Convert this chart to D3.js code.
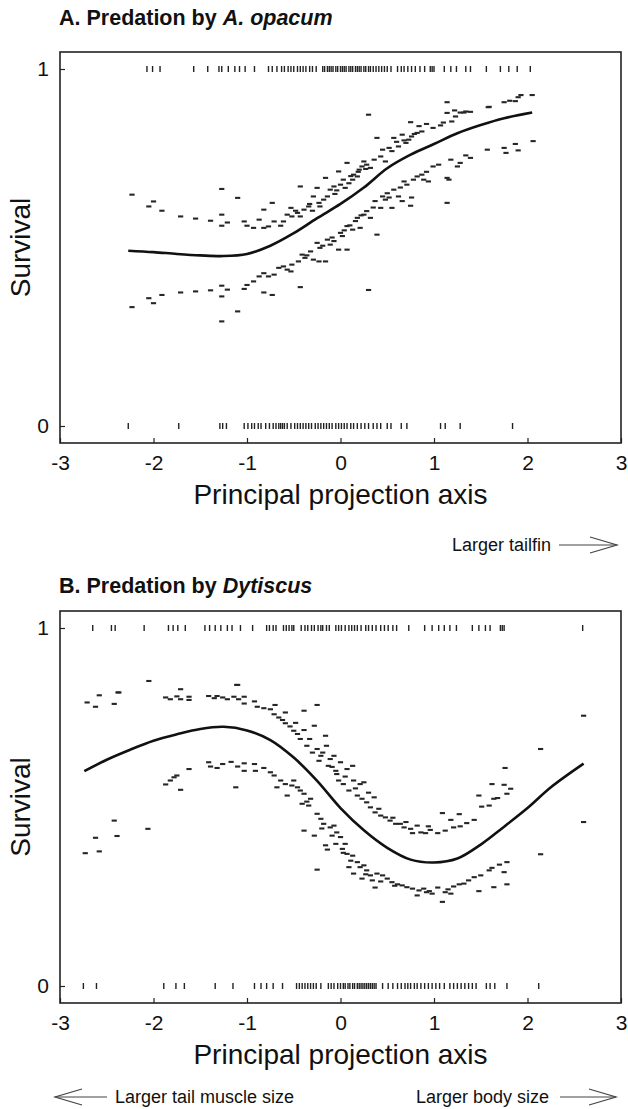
<!DOCTYPE html>
<html>
<head>
<meta charset="utf-8">
<script src="https://cdn.jsdelivr.net/npm/d3@7"></script>
<style>
	body { margin: 0; background: #fff; }
	text { font-family: "Liberation Sans", Arial, sans-serif; fill: #111; }
</style>
</head>
<body>
<svg width="628" height="1109"></svg>
<script>
const xTicks = [-3, -2, -1, 0, 1, 2, 3];
const yTicks = [0, 1];

// fitted survival curve, panel A
const curveA = [[-2.27, 0.491], [-2.0, 0.487], [-1.75, 0.482], [-1.5, 0.478], [-1.25, 0.476], [-1.0, 0.482],
	[-0.75, 0.505], [-0.5, 0.540], [-0.25, 0.582], [0, 0.622], [0.25, 0.668], [0.5, 0.722], [0.75, 0.760],
	[1.0, 0.790], [1.25, 0.820], [1.5, 0.843], [1.75, 0.862], [2.05, 0.878]];

// individual values, panel A
const dashesA = [
	[-2.23, 0.648], [-2.00, 0.629], [-2.05, 0.615], [-1.91, 0.603], [-1.71, 0.587], [-1.55, 0.581], [-1.39, 0.575],
	[-1.27, 0.664], [-1.10, 0.639], [-1.27, 0.592], [-1.27, 0.561], [-1.21, 0.570], [-1.03, 0.573], [-1.00, 0.561],
	[-0.93, 0.555], [-0.87, 0.578], [-0.82, 0.606], [-0.82, 0.555], [-0.77, 0.559], [-0.73, 0.625], [-0.71, 0.573],
	[-0.64, 0.561], [-0.61, 0.573], [-0.57, 0.592], [-0.53, 0.611], [-0.52, 0.587], [-0.46, 0.597], [-0.43, 0.587],
	[-0.43, 0.671], [-0.39, 0.606], [-0.34, 0.615], [-0.30, 0.603], [-0.29, 0.643], [-0.25, 0.667], [-0.23, 0.625],
	[-0.22, 0.615], [-0.18, 0.634], [-0.16, 0.695], [-0.14, 0.643], [-0.11, 0.662], [-0.07, 0.671], [-0.04, 0.660],
	[-0.02, 0.713], [0.00, 0.676], [0.05, 0.667], [0.07, 0.737], [0.09, 0.680], [0.13, 0.690], [0.14, 0.704],
	[0.18, 0.699], [0.20, 0.718], [0.23, 0.727], [0.25, 0.741], [0.28, 0.732], [0.30, 0.872], [0.32, 0.723],
	[0.36, 0.746], [0.39, 0.807], [0.43, 0.755], [0.45, 0.774], [0.48, 0.741], [0.52, 0.779], [0.55, 0.770],
	[0.57, 0.807], [0.62, 0.783], [0.66, 0.816], [0.70, 0.793], [0.73, 0.802], [0.75, 0.851], [0.76, 0.811],
	[0.82, 0.821], [0.84, 0.840], [0.87, 0.825], [0.92, 0.846], [0.99, 0.835], [1.07, 0.842], [1.14, 0.907],
	[1.14, 0.877], [1.19, 0.853], [1.23, 0.867], [1.32, 0.878], [1.39, 0.880], [1.59, 0.894], [1.75, 0.907],
	[1.87, 0.910], [1.22, 0.884], [1.28, 0.878], [1.34, 0.881], [1.81, 0.911], [1.90, 0.921], [1.93, 0.927],
	[2.05, 0.927], [1.10, 0.850], [1.58, 0.893],
	[-0.06, 0.650], [0.03, 0.690], [0.11, 0.700], [0.19, 0.712], [0.27, 0.720], [-0.33, 0.622], [-0.48, 0.603],
	[0.60, 0.796], [0.68, 0.800], [0.79, 0.818],
	[-2.23, 0.333], [-2.05, 0.358], [-2.00, 0.344], [-1.91, 0.367], [-1.71, 0.374], [-1.55, 0.377], [-1.39, 0.380],
	[-1.27, 0.393], [-1.27, 0.363], [-1.27, 0.293], [-1.21, 0.382], [-1.10, 0.321], [-1.03, 0.384], [-1.00, 0.395],
	[-0.93, 0.405], [-0.87, 0.419], [-0.82, 0.428], [-0.82, 0.374], [-0.73, 0.367], [-0.77, 0.419], [-0.71, 0.424],
	[-0.66, 0.443], [-0.61, 0.447], [-0.57, 0.438], [-0.53, 0.433], [-0.52, 0.452], [-0.45, 0.461], [-0.43, 0.389],
	[-0.41, 0.480], [-0.38, 0.471], [-0.32, 0.489], [-0.29, 0.466], [-0.25, 0.513], [-0.23, 0.461], [-0.22, 0.499],
	[-0.16, 0.461], [-0.14, 0.522], [-0.11, 0.508], [-0.07, 0.518], [-0.02, 0.494], [0.00, 0.541], [0.02, 0.532],
	[0.07, 0.494], [0.07, 0.560], [0.13, 0.550], [0.16, 0.574], [0.18, 0.583], [0.21, 0.555], [0.25, 0.592],
	[0.28, 0.602], [0.30, 0.381], [0.32, 0.583], [0.37, 0.630], [0.39, 0.536], [0.43, 0.611], [0.45, 0.643],
	[0.48, 0.634], [0.50, 0.652], [0.55, 0.611], [0.57, 0.662], [0.62, 0.643], [0.66, 0.630], [0.68, 0.685],
	[0.71, 0.676], [0.75, 0.617], [0.76, 0.640], [0.78, 0.690], [0.82, 0.699], [0.87, 0.704], [0.89, 0.690],
	[0.94, 0.685], [0.99, 0.727], [1.05, 0.732], [1.14, 0.625], [1.14, 0.695], [1.16, 0.690], [1.18, 0.746],
	[1.25, 0.727], [1.28, 0.737], [1.34, 0.758], [1.39, 0.751], [1.57, 0.774], [1.75, 0.779], [1.77, 0.765],
	[1.87, 0.790], [1.90, 0.772], [2.06, 0.798],
	[-0.36, 0.478], [-0.19, 0.505], [-0.09, 0.528], [0.04, 0.548], [0.10, 0.562], [0.22, 0.590], [0.35, 0.612],
	[0.52, 0.640], [0.64, 0.668], [0.92, 0.712]
];

// survivors (1) and non-survivors (0), panel A
const rugA1 = [-2.07, -2.01, -1.93, -1.57, -1.42, -1.30, -1.27, -1.20, -1.13, -1.08, -1.02, -0.92, -0.77, -0.73,
	-0.68, -0.63, -0.60, -0.56, -0.53, -0.50, -0.46, -0.43, -0.40, -0.37, -0.33, -0.30, -0.26, -0.19, -0.17, -0.14,
	-0.12, -0.10, -0.08, -0.05, -0.03, 0.00, 0.02, 0.04, 0.06, 0.09, 0.11, 0.13, 0.16, 0.18, 0.20, 0.22, 0.25, 0.27,
	0.30, 0.32, 0.35, 0.38, 0.41, 0.44, 0.47, 0.50, 0.54, 0.61, 0.65, 0.68, 0.72, 0.76, 0.80, 0.85, 0.90, 0.96,
	0.98, 1.00, 1.11, 1.18, 1.24, 1.34, 1.39, 1.56, 1.71, 1.80, 1.89, 2.03];
const rugA0 = [-2.27, -1.73, -1.29, -1.26, -1.22, -1.03, -0.99, -0.95, -0.92, -0.88, -0.85, -0.80, -0.76,
	-0.72, -0.69, -0.66, -0.64, -0.62, -0.60, -0.57, -0.53, -0.49, -0.46, -0.43, -0.40, -0.37, -0.34, -0.31,
	-0.27, -0.24, -0.21, -0.18, -0.15, -0.12, -0.09, -0.05, -0.02, 0.01, 0.04, 0.07, 0.11, 0.14, 0.18, 0.22,
	0.26, 0.30, 0.35, 0.39, 0.43, 0.50, 0.54, 0.65, 0.71, 1.07, 1.12, 1.28, 1.84];

// fitted survival curve, panel B
const curveB = [[-2.74, 0.600], [-2.5, 0.632], [-2.25, 0.660], [-2.0, 0.685], [-1.75, 0.703], [-1.5, 0.718],
	[-1.25, 0.724], [-1.0, 0.714], [-0.75, 0.687], [-0.5, 0.638], [-0.25, 0.573], [0, 0.497], [0.25, 0.435],
	[0.5, 0.386], [0.75, 0.353], [1.0, 0.345], [1.25, 0.356], [1.5, 0.395], [1.75, 0.445], [2.0, 0.497],
	[2.25, 0.555], [2.6, 0.621]];

// individual values, panel B
const dashesB = [
	[-2.71, 0.792], [-2.58, 0.812], [-2.62, 0.780], [-2.38, 0.820], [-2.42, 0.788], [-1.71, 0.829], [-1.87, 0.806],
	[-1.82, 0.801], [-1.75, 0.809], [-1.71, 0.801], [-1.62, 0.808], [-1.62, 0.799], [-1.41, 0.810], [-1.35, 0.804],
	[-1.32, 0.810], [-1.26, 0.806], [-1.21, 0.801], [-1.14, 0.808], [-1.10, 0.841], [-1.09, 0.801], [-1.03, 0.808],
	[-1.03, 0.789], [-0.92, 0.795], [-0.89, 0.780], [-0.82, 0.776], [-0.75, 0.773], [-0.70, 0.785], [-0.71, 0.759],
	[-0.66, 0.750], [-0.62, 0.743], [-0.59, 0.764], [-0.59, 0.734], [-0.39, 0.769], [-0.25, 0.785], [-0.50, 0.713],
	[-0.46, 0.704], [-0.39, 0.715], [-0.43, 0.690], [-0.36, 0.671], [-0.30, 0.652], [-0.28, 0.727], [-0.25, 0.662],
	[-0.21, 0.643], [-0.23, 0.629], [-0.16, 0.699], [-0.15, 0.671], [-0.13, 0.615], [-0.11, 0.634], [-0.07, 0.643],
	[-0.05, 0.601], [-0.04, 0.592], [-0.02, 0.574], [0.00, 0.625], [0.03, 0.564], [0.07, 0.606], [0.09, 0.546],
	[0.13, 0.615], [0.14, 0.574], [0.18, 0.532], [0.21, 0.564], [0.23, 0.523], [0.25, 0.569], [0.28, 0.513],
	[0.32, 0.499], [0.36, 0.527], [0.37, 0.485], [0.43, 0.476], [0.48, 0.471], [0.53, 0.462], [0.59, 0.453],
	[0.64, 0.453], [0.68, 0.443], [0.75, 0.439], [0.77, 0.427], [0.82, 0.448], [0.86, 0.429], [0.91, 0.427],
	[0.96, 0.436], [1.04, 0.427], [1.09, 0.483], [1.12, 0.434], [1.18, 0.464], [1.21, 0.443], [1.27, 0.480],
	[1.28, 0.446], [1.35, 0.455], [1.43, 0.464], [1.48, 0.532], [1.51, 0.501], [1.59, 0.504], [1.64, 0.523],
	[1.68, 0.525], [1.62, 0.564], [1.75, 0.562], [1.78, 0.537], [1.82, 0.551], [1.76, 0.609], [2.14, 0.662],
	[2.60, 0.755], [2.60, 0.458], [-2.05, 0.852], [-2.37, 0.820], [-1.11, 0.841],
	[-0.54, 0.725], [-0.48, 0.735], [-0.33, 0.690], [-0.19, 0.652], [-0.09, 0.612], [0.05, 0.585], [0.16, 0.552],
	[0.30, 0.540], [0.41, 0.495], [0.56, 0.470], [0.70, 0.458], [0.94, 0.446],
	[-2.42, 0.462], [-2.06, 0.439], [-2.62, 0.414], [-2.39, 0.419], [-2.73, 0.371], [-2.58, 0.376], [2.14, 0.368],
	[-1.87, 0.563], [-1.82, 0.574], [-1.75, 0.588], [-1.71, 0.548], [-1.62, 0.606], [-1.78, 0.583], [-1.41, 0.625],
	[-1.39, 0.613], [-1.32, 0.609], [-1.26, 0.620], [-1.17, 0.626], [-1.12, 0.555], [-1.10, 0.613], [-1.03, 0.622],
	[-1.03, 0.601], [-0.92, 0.620], [-0.91, 0.601], [-0.82, 0.609], [-0.75, 0.597], [-0.71, 0.588], [-0.68, 0.555],
	[-0.64, 0.574], [-0.59, 0.564], [-0.57, 0.532], [-0.50, 0.574], [-0.46, 0.555], [-0.43, 0.546], [-0.41, 0.509],
	[-0.39, 0.537], [-0.32, 0.523], [-0.34, 0.504], [-0.39, 0.434], [-0.28, 0.420], [-0.25, 0.481], [-0.21, 0.467],
	[-0.18, 0.453], [-0.16, 0.393], [-0.14, 0.381], [-0.25, 0.325], [-0.11, 0.443], [-0.07, 0.448], [-0.04, 0.429],
	[-0.05, 0.397], [0.00, 0.416], [0.02, 0.383], [0.05, 0.397], [0.07, 0.369], [0.09, 0.332], [0.13, 0.364],
	[0.14, 0.314], [0.18, 0.346], [0.21, 0.332], [0.23, 0.300], [0.25, 0.337], [0.28, 0.323], [0.32, 0.309],
	[0.34, 0.295], [0.37, 0.275], [0.39, 0.314], [0.45, 0.309], [0.50, 0.300], [0.55, 0.290], [0.61, 0.284],
	[0.66, 0.281], [0.71, 0.276], [0.77, 0.272], [0.82, 0.253], [0.84, 0.267], [0.89, 0.272], [0.95, 0.265],
	[0.98, 0.258], [1.04, 0.275], [1.09, 0.235], [1.12, 0.262], [1.18, 0.258], [1.21, 0.278], [1.27, 0.284],
	[1.32, 0.286], [1.37, 0.295], [1.43, 0.304], [1.48, 0.265], [1.50, 0.309], [1.59, 0.323], [1.64, 0.276],
	[1.62, 0.330], [1.70, 0.339], [1.75, 0.318], [1.78, 0.346], [1.78, 0.284],
	[-0.52, 0.560], [-0.36, 0.515], [-0.20, 0.440], [-0.09, 0.420], [0.03, 0.372], [0.11, 0.350], [0.27, 0.312],
	[0.43, 0.292], [0.58, 0.280], [0.92, 0.262], [1.15, 0.270]
];

// survivors (1) and non-survivors (0), panel B
const rugB1 = [-2.65, -2.45, -2.41, -2.10, -1.84, -1.79, -1.74, -1.66, -1.45, -1.40, -1.34, -1.28, -1.21, -1.16,
	-1.07, -0.94, -0.79, -0.76, -0.72, -0.69, -0.61, -0.58, -0.55, -0.52, -0.50, -0.42, -0.38, -0.35, -0.31, -0.28,
	-0.24, -0.21, -0.19, -0.15, -0.12, -0.05, -0.02, 0.01, 0.05, 0.09, 0.12, 0.15, 0.18, 0.22, 0.27, 0.30, 0.34,
	0.38, 0.43, 0.47, 0.51, 0.56, 0.60, 0.73, 0.90, 0.98, 1.05, 1.11, 1.17, 1.24, 1.41, 1.48, 1.55, 1.60, 1.71,
	1.73, 1.75, 2.59];
const rugB0 = [-2.75, -2.61, -1.89, -1.76, -1.67, -1.34, -1.15, -0.92, -0.85, -0.79, -0.72, -0.62, -0.47, -0.44,
	-0.41, -0.38, -0.35, -0.32, -0.29, -0.26, -0.21, -0.13, -0.10, -0.07, -0.03, 0.00, 0.03, 0.05, 0.08, 0.10,
	0.13, 0.15, 0.18, 0.20, 0.22, 0.24, 0.26, 0.28, 0.30, 0.32, 0.34, 0.36, 0.38, 0.45, 0.51, 0.56, 0.61, 0.65,
	0.69, 0.72, 0.75, 0.79, 0.82, 0.86, 0.90, 0.94, 0.98, 1.02, 1.06, 1.11, 1.17, 1.21, 1.25, 1.29, 1.33, 1.37,
	1.41, 1.45, 1.56, 1.60, 1.65, 1.78, 2.12];

const svg = d3.select('svg');
const left = 60, right = 621;

function drawPanel(p) {
	let g = svg.append('g');
	let x = d3.scaleLinear().domain([-3, 3]).range([left, right]);
	let y = d3.scaleLinear().domain([0, 1]).range([p.bottom - 17, p.top + 17]);

	let title = g.append('text')
		.attr('x', 59).attr('y', p.titleY)
		.style('font-weight', 'bold').style('font-size', '21.5px');
	title.append('tspan').text(p.title);
	title.append('tspan').style('font-style', 'italic').text(p.titleItalic);

	// plain hyphen for negatives, as in the original figure
	let fmt = d => String(d);
	let xAxis = g.append('g')
		.attr('transform', 'translate(0,' + p.bottom + ')')
		.call(d3.axisBottom(x).tickValues(xTicks).tickFormat(fmt).tickSize(-5).tickPadding(12));
	let yAxis = g.append('g')
		.attr('transform', 'translate(' + left + ',0)')
		.call(d3.axisLeft(y).tickValues(yTicks).tickFormat(fmt).tickSize(-5).tickPadding(11));
	[xAxis, yAxis].forEach(a => {
		a.select('.domain').remove();
		a.selectAll('.tick line').attr('stroke', '#222').attr('stroke-width', 1.2);
		a.selectAll('.tick text').style('font-size', '21px').attr('fill', '#111')
			.style('font-family', '"Liberation Sans", Arial, sans-serif');
	});

	g.append('rect')
		.attr('x', left).attr('y', p.top)
		.attr('width', right - left).attr('height', p.bottom - p.top)
		.attr('fill', 'none').attr('stroke', '#222').attr('stroke-width', 1.6);

	g.append('text')
		.attr('x', x(0)).attr('y', p.bottom + 61)
		.attr('text-anchor', 'middle').style('font-size', '28px')
		.text('Principal projection axis');
	g.append('text')
		.attr('transform', 'translate(30,' + (p.top + p.bottom) / 2 + ') rotate(-90)')
		.attr('text-anchor', 'middle').style('font-size', '28px')
		.text('Survival');

	// rug ticks for survivors and non-survivors
	[[p.rug1, 1], [p.rug0, 0]].forEach(([vals, v]) => {
		g.append('g').selectAll('line')
			.data(vals)
			.enter().append('line')
			.attr('x1', d => x(d)).attr('x2', d => x(d))
			.attr('y1', y(v) - 3).attr('y2', y(v) + 3)
			.attr('stroke', '#222').attr('stroke-width', 1.4);
	});

	g.append('g').selectAll('line')
		.data(p.dashes)
		.enter().append('line')
		.attr('x1', d => x(d[0]) - 2.6).attr('x2', d => x(d[0]) + 2.6)
		.attr('y1', d => y(d[1])).attr('y2', d => y(d[1]))
		.attr('stroke', '#262626').attr('stroke-width', 2.1);

	g.append('path')
		.datum(p.curve)
		.attr('fill', 'none').attr('stroke', '#111').attr('stroke-width', 2.6)
		.attr('d', d3.line().x(d => x(d[0])).y(d => y(d[1])).curve(d3.curveCatmullRom));
}

function drawArrow(label, x1, x2, yLine, textX, anchor) {
	let dir = x2 > x1 ? 1 : -1;
	let g = svg.append('g').attr('stroke', '#444').attr('stroke-width', 1.2).attr('fill', 'none');
	g.append('line').attr('x1', x1).attr('x2', x2).attr('y1', yLine).attr('y2', yLine);
	g.append('polyline')
		.attr('points', [[x2 - dir * 27, yLine - 8], [x2, yLine], [x2 - dir * 27, yLine + 8]].join(' '));
	svg.append('text')
		.attr('x', textX).attr('y', yLine + 6)
		.attr('text-anchor', anchor).style('font-size', '18px')
		.text(label);
}

drawPanel({top: 52, bottom: 443, titleY: 25, title: 'A. Predation by ', titleItalic: 'A. opacum',
	curve: curveA, dashes: dashesA, rug1: rugA1, rug0: rugA0});
drawPanel({top: 611, bottom: 1003, titleY: 593, title: 'B. Predation by ', titleItalic: 'Dytiscus',
	curve: curveB, dashes: dashesB, rug1: rugB1, rug0: rugB0});

drawArrow('Larger tailfin', 559, 617, 545, 551, 'end');
drawArrow('Larger tail muscle size', 107, 55, 1097, 115, 'start');
drawArrow('Larger body size', 560, 616, 1097, 549, 'end');
</script>
</body>
</html>
